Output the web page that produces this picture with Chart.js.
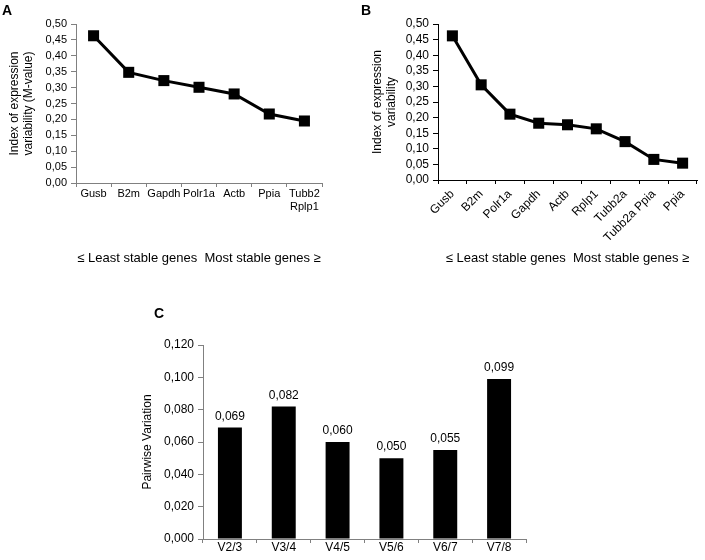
<!DOCTYPE html>
<html><head><meta charset="utf-8">
<script src="https://cdn.jsdelivr.net/npm/chart.js@4.4.0/dist/chart.umd.min.js"></script>
<style>
html,body{margin:0;padding:0;background:#fff;}
body{width:705px;height:560px;position:relative;overflow:hidden;font-family:"Liberation Sans",Arial,sans-serif;}
.panel{position:absolute;}
.panel canvas{display:block;}
.lab{position:absolute;font-weight:bold;font-size:14px;color:#000;line-height:14px;}
</style></head><body>
<div class="panel" style="left:0;top:0;width:350px;height:280px"><canvas id="cA" width="350" height="280"></canvas></div>
<div class="panel" style="left:350px;top:0;width:355px;height:280px"><canvas id="cB" width="355" height="280"></canvas></div>
<div class="panel" style="left:120px;top:290px;width:430px;height:270px"><canvas id="cC" width="430" height="270"></canvas></div>
<div class="lab" style="left:2px;top:3px">A</div>
<div class="lab" style="left:361px;top:3px">B</div>
<div class="lab" style="left:154px;top:306px">C</div>
<script>
// ---- data ----
const genesA = ['Gusb', 'B2m', 'Gapdh', 'Polr1a', 'Actb', 'Ppia', ['Tubb2', 'Rplp1']];
const mValuesA = [0.463, 0.348, 0.322, 0.301, 0.280, 0.217, 0.195];

const genesB = ['Gusb', 'B2m', 'Polr1a', 'Gapdh', 'Actb', 'Rplp1', 'Tubb2a', 'Tubb2a Ppia', 'Ppia'];
const valuesB = [0.462, 0.305, 0.211, 0.182, 0.177, 0.164, 0.123, 0.066, 0.054];

const pairsC = ['V2/3', 'V3/4', 'V4/5', 'V5/6', 'V6/7', 'V7/8'];
const pairwiseC = [0.069, 0.082, 0.060, 0.050, 0.055, 0.099];

const stabilityTitle = '\u2264 Least stable genes  Most stable genes \u2265';
const yTitleA = ['Index of expression', 'variability (M-value)'];
const yTitleB = ['Index of expression', 'variability'];
const yTitleC = 'Pairwise Variation';

// ---- helpers ----
Chart.defaults.font.family = "'Liberation Sans', Arial, sans-serif";
Chart.defaults.color = '#000';
const comma = (v, d) => Number(v).toFixed(d).replace('.', ',');

function lineChart(id, labels, values, cfg) {
  return new Chart(document.getElementById(id), {
    type: 'line',
    data: { labels: labels, datasets: [{
      data: values, borderColor: '#000', borderWidth: 3, tension: 0,
      pointStyle: 'rect', pointRadius: 7.8, pointHoverRadius: 7.8,
      pointBackgroundColor: '#000', pointBorderWidth: 0, clip: false
    }]},
    options: {
      responsive: false, animation: false, events: [],
      layout: { padding: cfg.padding },
      plugins: { legend: { display: false }, tooltip: { enabled: false } },
      scales: {
        x: {
          offset: true,
          grid: { offset: true, drawOnChartArea: false, tickLength: 4, color: cfg.axisColor },
          border: { color: cfg.axisColor, width: 1 },
          ticks: { font: { size: cfg.xFont }, color: '#000', padding: cfg.xPad, autoSkip: false,
                   maxRotation: cfg.rot, minRotation: cfg.rot },
          title: { display: true, text: stabilityTitle, font: { size: 13 }, color: '#000',
                   padding: { top: 0, bottom: 14 } },
          afterFit: s => { s.height = cfg.xH; }
        },
        y: {
          min: 0, max: 0.5,
          ticks: { stepSize: 0.05, autoSkip: false, callback: v => comma(v, 2), font: { size: cfg.yFont }, color: '#000', padding: 4 },
          grid: { drawOnChartArea: false, tickLength: 5, color: cfg.axisColor },
          border: { color: cfg.axisColor, width: 1 },
          title: { display: true, text: cfg.yTitle, font: { size: 12 }, color: '#000',
                   padding: { top: cfg.yTitlePad, bottom: 0 } },
          afterFit: s => { s.width = cfg.yW; }
        }
      }
    }
  });
}

lineChart('cA', genesA, mValuesA, {
  padding: { left: 0, top: 24, right: 28, bottom: 0 },
  axisColor: '#808080', xFont: 11, yFont: 11, xPad: 0, rot: 0, xH: 97, yW: 76,
  yTitle: yTitleA, yTitlePad: 7
});

lineChart('cB', genesB, valuesB, {
  padding: { left: 0, top: 24, right: 8, bottom: 0 },
  axisColor: '#000', xFont: 12, yFont: 12, xPad: 3, rot: 45, xH: 100, yW: 88,
  yTitle: yTitleB, yTitlePad: 20
});

const valueLabels = {
  id: 'valueLabels',
  afterDatasetsDraw(chart) {
    const ctx = chart.ctx;
    const meta = chart.getDatasetMeta(0);
    const data = chart.data.datasets[0].data;
    ctx.save();
    ctx.font = "12px 'Liberation Sans', Arial, sans-serif";
    ctx.fillStyle = '#000';
    ctx.textAlign = 'center';
    ctx.textBaseline = 'bottom';
    meta.data.forEach((el, i) => { ctx.fillText(comma(data[i], 3), el.x, el.y - 5); });
    ctx.restore();
  }
};

new Chart(document.getElementById('cC'), {
  type: 'bar',
  data: { labels: pairsC, datasets: [{ data: pairwiseC, backgroundColor: '#000', borderWidth: 0,
          categoryPercentage: 1, barPercentage: 0.445 }] },
  options: {
    responsive: false, animation: false, events: [],
    layout: { padding: { left: 0, top: 55, right: 24, bottom: 0 } },
    plugins: { legend: { display: false }, tooltip: { enabled: false } },
    scales: {
      x: {
        grid: { offset: true, drawOnChartArea: false, tickLength: 4, color: '#808080' },
        border: { color: '#808080', width: 1 },
        ticks: { font: { size: 12 }, color: '#000', padding: -3, maxRotation: 0, autoSkip: false },
        afterFit: s => { s.height = 21; }
      },
      y: {
        min: 0, max: 0.12,
        ticks: { stepSize: 0.02, autoSkip: false, callback: v => comma(v, 3), font: { size: 12 }, color: '#000', padding: 4 },
        grid: { drawOnChartArea: false, tickLength: 5, color: '#808080' },
        border: { color: '#808080', width: 1 },
        title: { display: true, text: yTitleC, font: { size: 12 }, color: '#000', padding: { top: 20, bottom: 0 } },
        afterFit: s => { s.width = 83; }
      }
    }
  },
  plugins: [valueLabels]
});
</script>
</body></html>
